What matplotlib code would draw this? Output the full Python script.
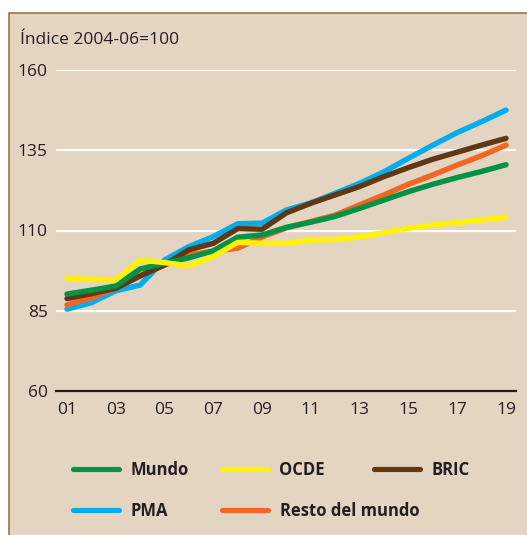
import matplotlib.pyplot as plt
from matplotlib.lines import Line2D
from matplotlib.patches import Rectangle

plt.rcParams['font.family'] = ['Open Sans', 'DejaVu Sans']

years = list(range(1, 20))
year_labels = ['01', '03', '05', '07', '09', '11', '13', '15', '17', '19']

mundo = [90.2, 91.4, 92.7, 98.0, 99.8, 101.5, 103.7, 107.9, 108.6, 111.0,
         112.6, 114.4, 116.9, 119.5, 122.1, 124.4, 126.5, 128.4, 130.5]
ocde = [95.0, 94.8, 94.6, 100.8, 100.0, 99.0, 101.9, 106.3, 106.0, 106.0,
        107.0, 107.2, 108.0, 109.3, 110.7, 111.7, 112.5, 113.3, 114.1]
bric = [88.8, 90.3, 92.0, 95.8, 99.3, 104.0, 106.0, 110.6, 110.4, 115.5,
        118.5, 121.1, 123.7, 126.8, 129.6, 132.2, 134.4, 136.6, 138.7]
pma = [85.5, 87.5, 91.2, 93.0, 100.8, 105.0, 108.1, 112.1, 112.3, 116.4,
       118.6, 121.6, 124.7, 128.3, 132.5, 136.6, 140.5, 143.9, 147.5]
resto = [86.8, 89.0, 92.0, 96.0, 99.2, 102.5, 103.5, 104.5, 108.0, 110.8,
         112.8, 114.8, 118.0, 121.1, 124.4, 127.3, 130.4, 133.3, 136.6]

series = [('PMA', pma, '#00AEEF'),
          ('Resto del mundo', resto, '#F26522'),
          ('BRIC', bric, '#603813'),
          ('Mundo', mundo, '#009245'),
          ('OCDE', ocde, '#FFF200')]

W, H = 527, 535
fig = plt.figure(figsize=(W / 100, H / 100), dpi=100)
fig.patch.set_facecolor('white')
bg = '#E4D4C2'
fig.patches.append(Rectangle((9 / W, -0.05), 1.1, (H - 13) / H + 0.05,
                             transform=fig.transFigure, facecolor=bg,
                             edgecolor='#9C7447', linewidth=1.2, zorder=-5))

ax = fig.add_axes([56 / W, 1 - 391 / H, 460 / W, 321 / H])
ax.set_facecolor('none')
for name, vals, col in series:
    ax.plot(years, vals, color=col, lw=3.9, solid_capstyle='round',
            solid_joinstyle='round', label=name)

ax.set_xlim(1 - 11 / 24.4, 19 + 10 / 24.4)
ax.set_ylim(60, 160)
ax.set_yticks([60, 85, 110, 135, 160])
ax.set_xticks(range(1, 20, 2))
ax.set_xticklabels(year_labels)
ax.grid(axis='y', color='white', lw=1.6)
ax.set_axisbelow(True)
for s in ['top', 'right', 'left']:
    ax.spines[s].set_visible(False)
ax.spines['bottom'].set_color('#231F20')
ax.spines['bottom'].set_linewidth(1.6)
ax.tick_params(length=0, labelsize=12.5, colors='#231F20')
ax.tick_params(axis='y', pad=6)
ax.tick_params(axis='x', pad=8)

fig.text(20 / W, 1 - 40 / H, 'Índice 2004-06=100', fontsize=12.5,
         color='#231F20', va='center', ha='left')

# legend entries
pos = {'Mundo': (73, 470), 'OCDE': (222, 470), 'BRIC': (374, 470),
       'PMA': (73, 511), 'Resto del mundo': (222, 511)}
for name, vals, col in series:
    x, y = pos[name]
    h = Line2D([], [], color=col, lw=3.7, solid_capstyle='round')
    fig.legend(handles=[h], labels=[name], loc='center left',
               bbox_to_anchor=(x / W, 1 - y / H), frameon=False,
               borderpad=0, borderaxespad=0, handlelength=2.75,
               handletextpad=0.7, prop={'size': 12, 'weight': 'bold'},
               labelcolor='#231F20')

fig.savefig('out.png', dpi=100, facecolor='white')
